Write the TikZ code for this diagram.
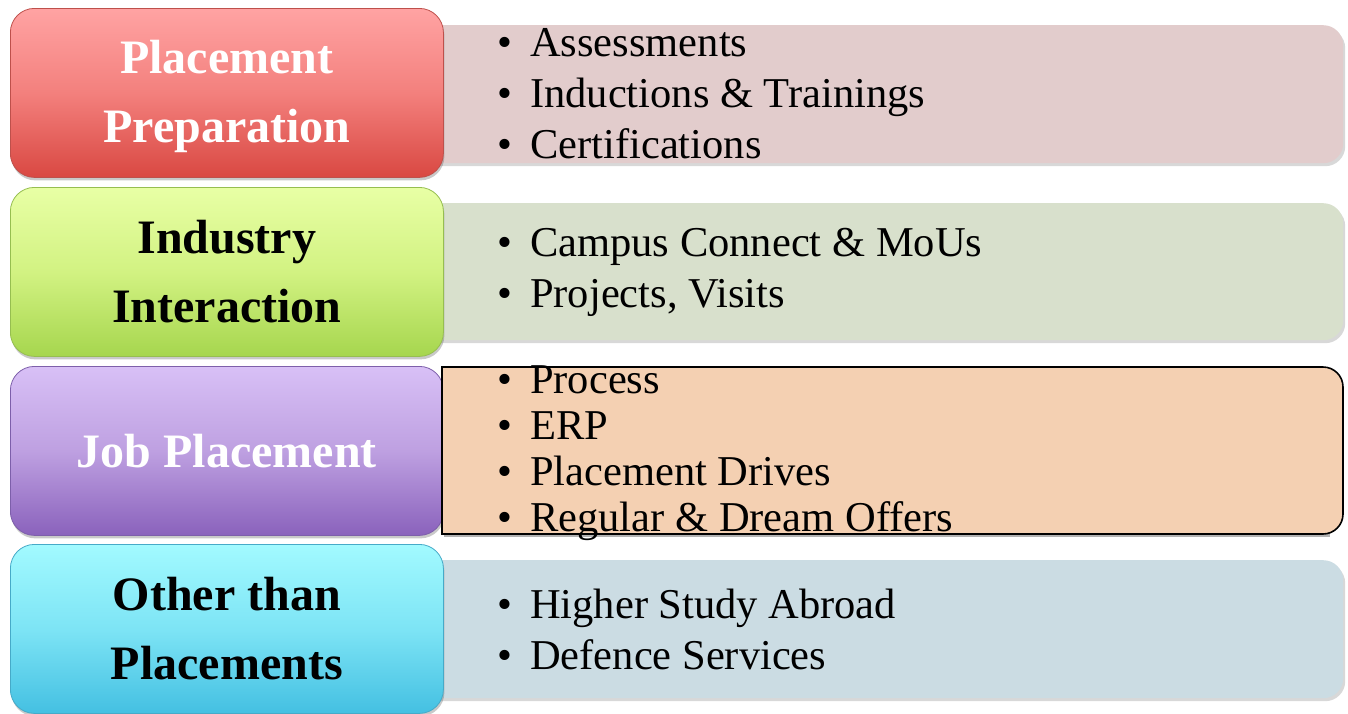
\documentclass[tikz,border=0pt]{standalone}
\usepackage{fontspec}
\setmainfont{Liberation Serif}
\usetikzlibrary{shadows}
\definecolor{lAtop}{RGB}{255,163,163}
\definecolor{lAmid}{RGB}{243,128,125}
\definecolor{lAbot}{RGB}{217,72,66}
\definecolor{lAdk}{RGB}{190,80,75}
\definecolor{lBtop}{RGB}{232,255,165}
\definecolor{lBmid}{RGB}{210,242,130}
\definecolor{lBbot}{RGB}{166,214,78}
\definecolor{lBdk}{RGB}{150,190,80}
\definecolor{lCtop}{RGB}{216,192,246}
\definecolor{lCmid}{RGB}{190,160,225}
\definecolor{lCbot}{RGB}{138,98,188}
\definecolor{lCdk}{RGB}{125,95,170}
\definecolor{lDtop}{RGB}{162,250,255}
\definecolor{lDmid}{RGB}{125,228,245}
\definecolor{lDbot}{RGB}{68,192,226}
\definecolor{lDdk}{RGB}{70,170,200}
\definecolor{rA}{RGB}{226,204,204}
\definecolor{rB}{RGB}{216,224,204}
\definecolor{rC}{RGB}{244,208,178}
\definecolor{rD}{RGB}{203,220,227}
\begin{document}
\begin{tikzpicture}[x=1pt,y=-1pt,
  catbox/.style={rounded corners=24pt, minimum width=433pt, minimum height=169pt,
    anchor=north west, inner sep=0pt, align=center, line width=0.8pt,
    font=\fontsize{48}{69}\selectfont\bfseries,
    drop shadow={shadow xshift=1pt, shadow yshift=-3pt, opacity=0.35, fill=black!60}},
  cattext/.style={inner sep=0pt, align=center, font=\fontsize{48}{69}\selectfont\bfseries},
  infobox/.style={rounded corners=20pt, minimum width=943pt, anchor=north west,
    inner sep=0pt,
    drop shadow={shadow xshift=2pt, shadow yshift=-3pt, opacity=0.3, fill=black!50}},
  listtext/.style={anchor=west, inner sep=0pt, align=left,
    font=\fontsize{42.5}{51}\selectfont}]
\useasboundingbox[fill=white] (0,0) rectangle (1348,713);
\newcommand{\itm}[1]{\makebox[33pt][l]{\textbullet}#1}
% right info boxes (behind)
\node[infobox, fill=rA, minimum height=138pt] (rA) at (400,25) {};
\node[infobox, fill=rB, minimum height=137pt] (rB) at (400,203) {};
\node[infobox, fill=rD, minimum height=138pt] (rD) at (400,560) {};
% left category boxes
\node[catbox, top color=lAtop, bottom color=lAbot, middle color=lAmid, draw=lAdk] (lA) at (10,8) {};
\node[cattext, text=white] (lAt) at ([yshift=-4pt]lA.center) {Placement\\Preparation};
\node[catbox, top color=lBtop, bottom color=lBbot, middle color=lBmid, draw=lBdk, text=black] (lB) at (10,187) {Industry\\Interaction};
\node[catbox, top color=lCtop, bottom color=lCbot, middle color=lCmid, draw=lCdk, text=white] (lC) at (10,366) {Job Placement};
\node[catbox, top color=lDtop, bottom color=lDbot, middle color=lDmid, draw=lDdk, text=black] (lD) at (10,544) {Other than\\Placements};
% job placement list box with black border, sharp left corners
\fill[black, opacity=0.3] (444,370) rectangle (1330,537);
\begin{scope}
  \clip (442,340) rectangle (1360,560);
  \draw[fill=rC, line width=1.6pt, rounded corners=20pt] (400,367) rectangle (1343,534);
\end{scope}
\draw[line width=1.6pt] (442,366.2) -- (442,534.8);
% list texts
\node[listtext] (tA) at (497,94) {\itm{Assessments}\\\itm{Inductions \& Trainings}\\\itm{Certifications}};
\node[listtext] (tB) at (497,272) {\itm{Campus Connect \& MoUs}\\\itm{Projects, Visits}};
\node[listtext, font=\fontsize{42.5}{46}\selectfont] (tC) at (497,453) {\itm{Process}\\\itm{ERP}\\\itm{Placement Drives}\\\itm{Regular \& Dream Offers}};
\node[listtext] (tD) at (497,629) {\itm{Higher Study Abroad}\\\itm{Defence Services}};
\end{tikzpicture}
\end{document}
